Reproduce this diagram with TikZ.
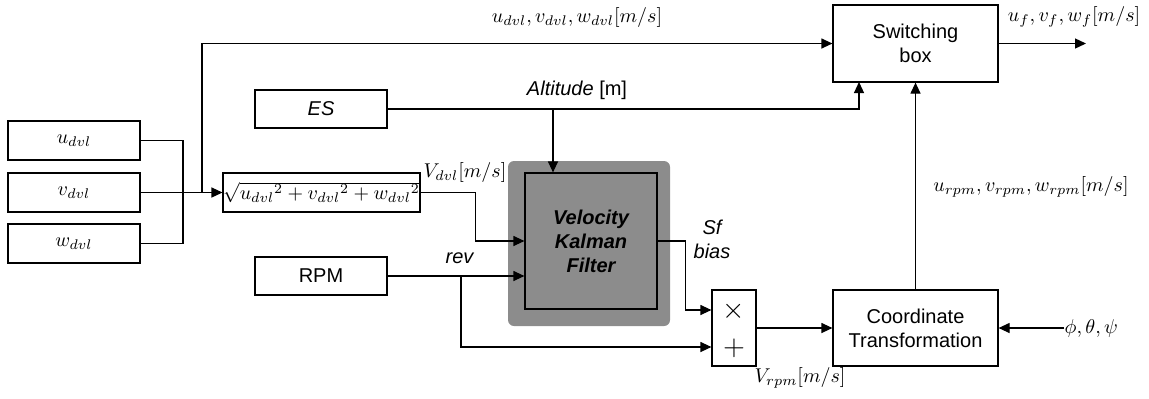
\documentclass[tikz,border=0pt]{standalone}
\usepackage{fontspec}
\setmainfont{Liberation Sans}
\usetikzlibrary{arrows.meta,calc}
\definecolor{kfgray}{HTML}{8C8C8C}
\begin{document}
\begin{tikzpicture}[x=0.5pt,y=-0.5pt,
  line width=0.6pt,
  arr/.style={-{Triangle[length=5.5pt,width=5pt]}},
  blk/.style={draw,line width=0.6pt,inner sep=0pt,fill=white},
  lbl/.style={inner sep=0pt,font=\fontsize{10}{11}\selectfont}]
\useasboundingbox (0,0) rectangle (1149,398);
% input boxes
\node[blk,minimum width=66pt,minimum height=19.5pt] (u) at (74,140.5) {$u_{dvl}$};
\node[blk,minimum width=66pt,minimum height=19.5pt] (v) at (74,192.5) {$v_{dvl}$};
\node[blk,minimum width=66pt,minimum height=19.5pt] (w) at (74,243.5) {$w_{dvl}$};
\node[blk,minimum width=93.5pt,minimum height=19.5pt] (sq) at (321.5,192.5) {$\sqrt{{u_{dvl}}^2+{v_{dvl}}^2+{w_{dvl}}^2}$};
\node[blk,minimum width=66pt,minimum height=19pt] (es) at (321,109) {\textit{ES}};
\node[blk,minimum width=66pt,minimum height=19pt] (rpm) at (321,276) {RPM};
% Kalman filter
\node[fill=kfgray,rounded corners=3pt,minimum width=81pt,minimum height=82.5pt,inner sep=0pt] (kfo) at (589,243.5) {};
\node[draw,fill=kfgray,minimum width=66pt,minimum height=68pt,inner sep=0pt,align=center,font=\bfseries\itshape] (kf) at (591,241) {Velocity\\Kalman\\Filter};
% mult/add
\node[blk,minimum width=22pt,minimum height=38pt] (mult) at (734,328) {};
\node[lbl,font=\Large] (times) at (734,311) {$\times$};
\node[lbl,font=\Large] (plus) at (734,348) {$+$};
% right boxes
\node[blk,minimum width=82.5pt,minimum height=38.5pt,align=center] (sw) at (915.5,43.5) {Switching\\box};
\node[blk,minimum width=82.5pt,minimum height=38pt,align=center] (co) at (915.5,328) {Coordinate\\Transformation};
% coordinates
\coordinate (bus) at (183,192.5);
\coordinate (br) at (202,192.5);
\coordinate (altin) at (859,82);
\coordinate (altbr) at (553,109);
\coordinate (revbr) at (461,276);
\coordinate (outend) at (1086,43.5);
% connectors
\draw (u.east) -| (bus) |- (w.east);
\draw[arr] (v.east) -- (sq.west);
\draw[arr] (br) |- (sw.west);
\draw[arr] (es.east) -| (altin);
\draw[arr] (altbr) -- (altbr |- kf.north);
\draw[arr] (sq.east) -- ++(55,0) |- (kf.west);
\draw[arr] (rpm.east) -- (rpm.east -| kf.west);
\draw[arr] (revbr) |- ($(mult.west)+(0,19)$);
\draw[arr] (kf.east) -- ++(28,0) |- ($(mult.west)+(0,-18)$);
\draw[arr] (mult.east) -- (co.west);
\draw[arr] (co.north) -- (sw.south);
\draw[arr] (sw.east) -- (outend);
% labels
\node[lbl] (l1) at (577,17) {$u_{dvl},v_{dvl},w_{dvl}[m/s]$};
\node[lbl] (l2) at (577,90) {\textit{Altitude} [m]};
\node[lbl] (l3) at (465,172) {$V_{dvl}[m/s]$};
\node[lbl] (l4) at (460,258) {\textit{rev}};
\node[lbl,align=center,font=\itshape] (l5) at (712,239) {Sf\\bias};
\node[lbl] (l6) at (800,378) {$V_{rpm}[m/s]$};
\node[lbl] (l7) at (1074,17) {$u_f,v_f,w_f[m/s]$};
\node[lbl] (l8) at (1031,187) {$u_{rpm},v_{rpm},w_{rpm}[m/s]$};
\node[lbl,anchor=west] (l9) at (1064,328) {$\phi,\theta,\psi$};
\draw[arr] (l9.west) -- (co.east);
\end{tikzpicture}
\end{document}
